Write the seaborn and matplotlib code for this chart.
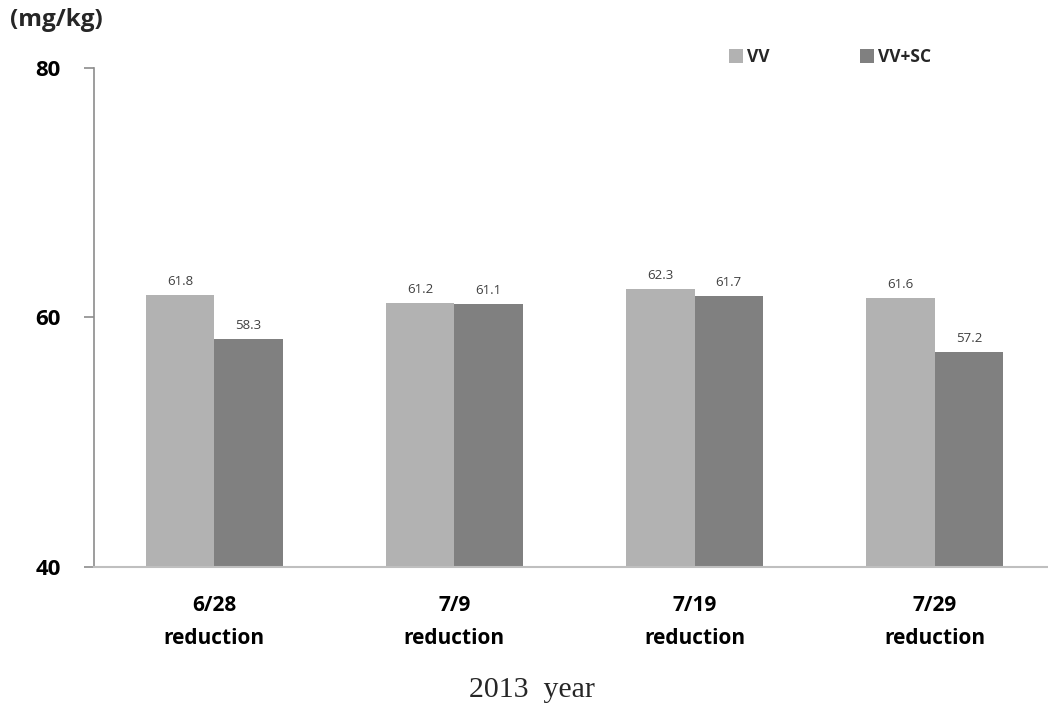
import matplotlib
matplotlib.use("Agg")
import matplotlib.pyplot as plt
import seaborn as sns
import pandas as pd
from matplotlib.patches import Patch

dates = ["6/28\nreduction", "7/9\nreduction", "7/19\nreduction", "7/29\nreduction"]
treatments = ["VV", "VV+SC"]
vv_values = [61.8, 61.2, 62.3, 61.6]
vvsc_values = [58.3, 61.1, 61.7, 57.2]
colors = ["#b2b2b2", "#808080"]

df = pd.DataFrame({
    "date": dates * 2,
    "treatment": [treatments[0]] * 4 + [treatments[1]] * 4,
    "value": vv_values + vvsc_values,
})

sns.set_theme(style="white")
plt.rcParams["font.family"] = ["Open Sans", "DejaVu Sans"]

fig = plt.figure(figsize=(10.48, 7.09), dpi=100)
ax = fig.add_axes([94 / 1048, 142 / 709, (1048 - 94) / 1048, (567 - 68) / 709])

sns.barplot(data=df, x="date", y="value", hue="treatment", order=dates,
            hue_order=treatments, palette=colors, width=0.57, saturation=1,
            legend=False, ax=ax, linewidth=0)

ax.set_ylim(40, 80)
ax.set_xlim(-0.5, 3.5 - 7 / 240)
ax.set_yticks([40, 60, 80])
ax.set_xlabel("")
ax.set_ylabel("")

for container in ax.containers:
    ax.bar_label(container, fmt="%.1f", padding=5, fontsize=9.5, color="#404040")

for side in ["top", "right"]:
    ax.spines[side].set_visible(False)
ax.spines["left"].set_color("#8c8c8c")
ax.spines["left"].set_linewidth(1.2)
ax.spines["bottom"].set_color("#bfbfbf")
ax.spines["bottom"].set_linewidth(1.5)

ax.tick_params(axis="y", which="both", left=True, length=7, width=1.2,
               color="#8c8c8c", pad=17, labelsize=16)
ax.tick_params(axis="x", bottom=False, pad=14, labelsize=15)
for lbl in ax.get_yticklabels() + ax.get_xticklabels():
    lbl.set_fontweight("bold")
    lbl.set_color("black")
for lbl in ax.get_xticklabels():
    lbl.set_linespacing(1.75)

fig.text(10 / 1048, 1 - 20 / 709, "(mg/kg)", fontsize=17.5, fontweight="bold",
         ha="left", va="center")
fig.text(532 / 1048, 1 - 690 / 709, "2013  year", fontsize=21.5,
         family=["Liberation Serif", "DejaVu Serif"], ha="center", va="center")

handles = [Patch(facecolor=c, edgecolor="none", label=t) for c, t in zip(colors, treatments)]
leg = fig.legend(handles=handles, loc="center left",
                 bbox_to_anchor=(713 / 1048, 1 - 57 / 709), ncol=2, frameon=False,
                 handlelength=0.8, handleheight=0.8, handletextpad=0.25,
                 columnspacing=5.2, prop={"weight": "bold", "size": 12.5})

fig.savefig("out.png", dpi=100)
